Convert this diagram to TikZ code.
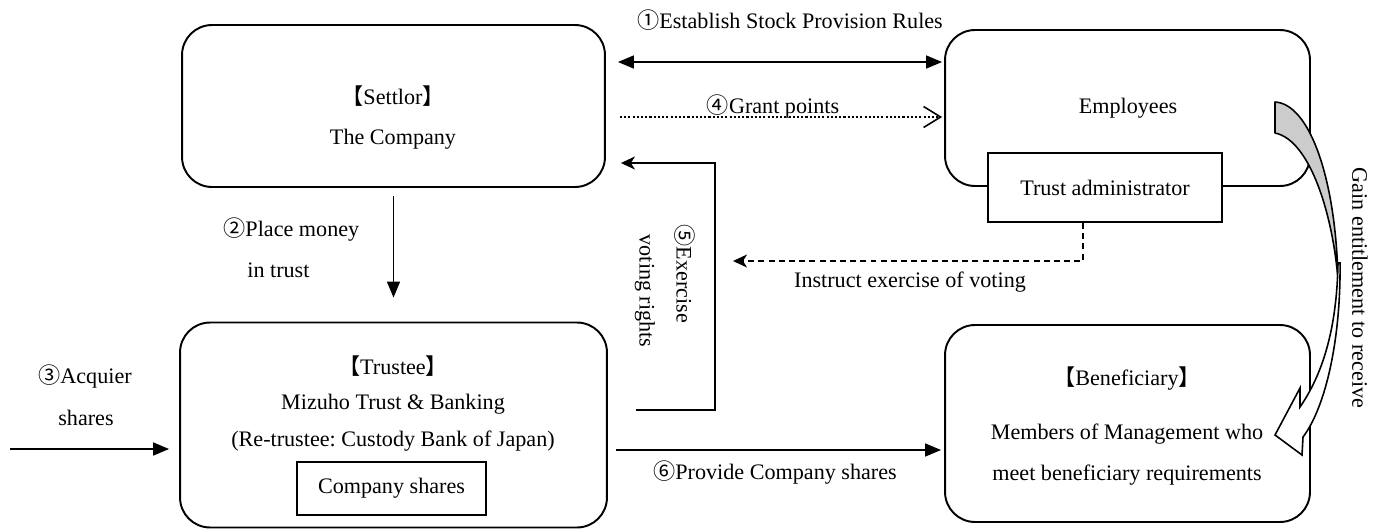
\documentclass[tikz,border=0pt]{standalone}
\usepackage{fontspec}
\setmainfont{Liberation Serif}
\newfontfamily\cjk{Noto Sans CJK JP}
\usetikzlibrary{arrows.meta}
\frenchspacing
\begin{document}
\begin{tikzpicture}[x=0.02cm,y=-0.02cm,
  box/.style={draw,line width=1.1pt,rounded corners=0.6cm,inner sep=0pt},
  sq/.style={draw,line width=1.1pt,inner sep=0pt,fill=white,font=\fontsize{12.6}{14}\selectfont},
  lbl/.style={font=\fontsize{12.6}{14}\selectfont,inner sep=0pt},
  conn/.style={line width=0.9pt},
  tri/.style={-{Triangle[length=0.32cm,width=0.26cm]}},
  tritwo/.style={{Triangle[length=0.32cm,width=0.26cm]}-{Triangle[length=0.32cm,width=0.26cm]}}
]
\useasboundingbox (0,0) rectangle (1379,528);

% boxes
\node[box,minimum width=8.46cm,minimum height=3.24cm] (settlor) at (393.5,106) {};
\node[box,minimum width=7.3cm,minimum height=3.12cm] (employees) at (1127.5,108) {};
\node[sq,minimum width=4.68cm,minimum height=1.38cm] (admin) at (1105,187.5) {Trust administrator};
\node[box,minimum width=8.54cm,minimum height=4.1cm] (trustee) at (393.5,425) {};
\node[sq,minimum width=3.78cm,minimum height=1.06cm] (shares) at (391.5,488.5) {Company shares};
\node[box,minimum width=7.3cm,minimum height=3.94cm] (benef) at (1127.5,423.5) {};

% box texts
\node[lbl] (settlorA) at (393,96) {{\cjk 【}Settlor{\cjk 】}};
\node[lbl] (settlorB) at (393,139) {The Company};
\node[lbl] (empT) at (1128,108) {Employees};
\node[lbl] (trusteeA) at (393,366) {{\cjk 【}Trustee{\cjk 】}};
\node[lbl] (trusteeB) at (393,404) {Mizuho Trust \& Banking};
\node[lbl] (trusteeC) at (393,441) {(Re-trustee: Custody Bank of Japan)};
\node[lbl] (benA) at (1127,379) {{\cjk 【}Beneficiary{\cjk 】}};
\node[lbl] (benB) at (1127,434) {Members of Management who};
\node[lbl] (benC) at (1127,475) {meet beneficiary requirements};

% helper coordinates
\coordinate (y62) at (0,62);
\coordinate (y117) at (0,117);
\coordinate (y410) at (0,410);
\coordinate (y450) at (0,450);
\coordinate (c5) at (715,163);
\coordinate (dk) at (1083,261);
\coordinate (dend) at (733,261);
\coordinate (in3) at (10,449);

% (1)
\draw[conn,tritwo,shorten <=0.24cm,shorten >=0.04cm] (settlor.east |- y62) -- (employees.west |- y62);
\node[lbl] (l1) at (790,20) {{\cjk ①}Establish Stock Provision Rules};
% (4)
\draw[conn,dash pattern=on 1.2pt off 1.2pt,-{Straight Barb[length=0.34cm,width=0.42cm]},shorten <=0.28cm,shorten >=0.04cm] (settlor.east |- y117) -- (employees.west |- y117);
\node[lbl] (l4) at (773,106) {{\cjk ④}Grant points};
% (5)
\draw[conn,-{Stealth[length=0.28cm,width=0.26cm,inset=0.08cm]},shorten <=0.56cm,shorten >=0.3cm] (trustee.east |- y410) -| (c5) -- (settlor.east |- c5);
\node[lbl,rotate=-90] (l5a) at (685,274) {{\cjk ⑤}Exercise};
\node[lbl,rotate=-90] (l5b) at (645,291) {voting rights};
% instruct
\draw[conn,dash pattern=on 3.4pt off 2.4pt,-{Stealth[length=0.28cm,width=0.26cm,inset=0.08cm]}] (admin.south -| dk) -- (dk) -- (dend);
\node[lbl] (li) at (910,282) {Instruct exercise of voting};
% (2)
\draw[conn,tri,shorten <=0.16cm,shorten >=0.48cm] (settlor.south) -- (trustee.north);
\node[lbl,anchor=west] (l2a) at (223,230) {{\cjk ②}Place money};
\node[lbl,anchor=west] (l2b) at (247,270) {in trust};
% (3)
\draw[conn,tri,shorten >=0.2cm] (in3) -- (trustee.west |- in3);
\node[lbl] (l3a) at (85,376) {{\cjk ③}Acquier};
\node[lbl] (l3b) at (86,418) {shares};
% (6)
\draw[conn,tri,shorten <=0.16cm,shorten >=0.06cm] (trustee.east |- y450) -- (benef.west |- y450);
\node[lbl] (l6) at (775,473) {{\cjk ⑥}Provide Company shares};

% curved ribbon arrow
\filldraw[fill=black!20,line width=0.9pt,line join=round] (1275,102) .. controls (1310,104) and (1336,180) .. (1338,280) .. controls (1333,215) and (1310,140) .. (1275,133) -- cycle;
\filldraw[fill=white,line width=0.9pt,line join=miter] (1338,262) .. controls (1337,330) and (1322,375) .. (1300,407) -- (1300,388) -- (1275,435) -- (1302,455) -- (1303,437) .. controls (1327,405) and (1341,335) .. (1340,262);
\node[lbl,rotate=-90] (lg) at (1360,288) {Gain entitlement to receive};
\end{tikzpicture}
\end{document}
